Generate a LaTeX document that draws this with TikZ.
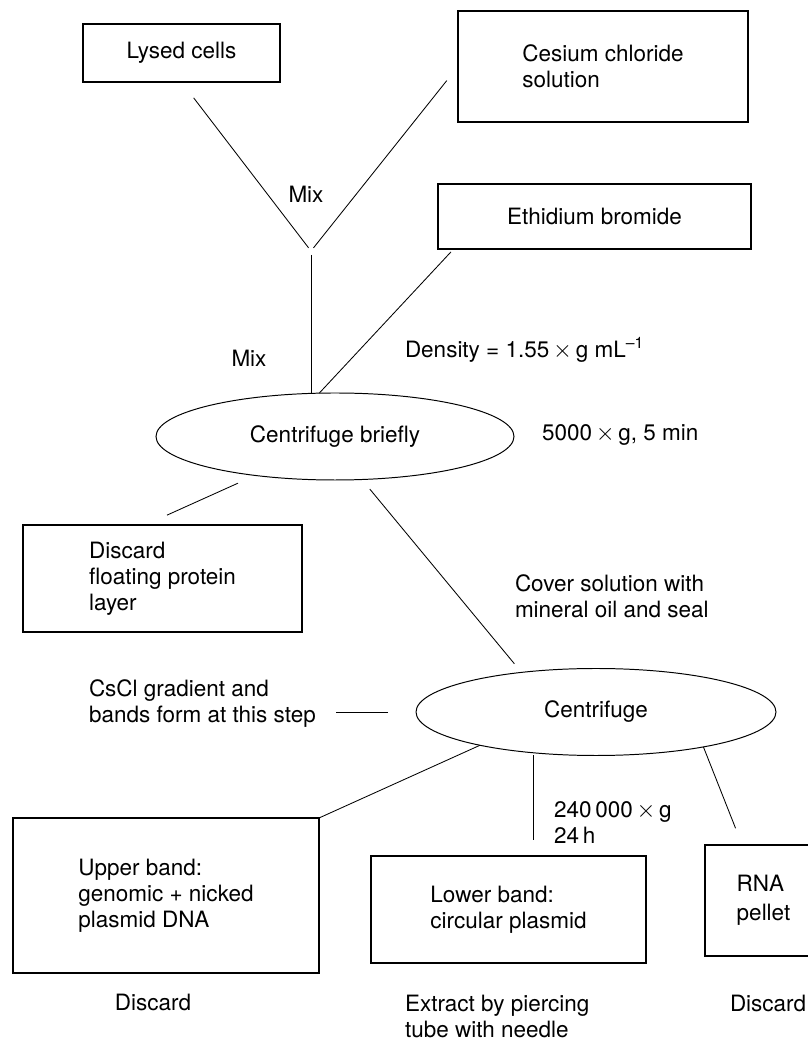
\documentclass[tikz,border=0pt]{standalone}
\usepackage{fontspec}
\setmainfont{TeX Gyre Heros}
\usetikzlibrary{shapes.geometric}

\begin{document}
\begin{tikzpicture}[line width=0.6pt,
		box/.style={draw, line width=0.9pt, inner sep=0pt, outer sep=0pt, align=left, font=\fontsize{16}{18.5}\selectfont},
		spin/.style={draw, ellipse, line width=0.7pt, inner sep=0pt, outer sep=0pt, font=\fontsize{16}{18.5}\selectfont},
		note/.style={inner sep=0pt, outer sep=0pt, align=left, font=\fontsize{16}{18.5}\selectfont}]
		\useasboundingbox (0,0) rectangle (20.2,26.025);

		% what goes into the tube
		\node [box, minimum width=4.925cm, minimum height=1.45cm] (lysed) at (4.5375,24.7) {Lysed cells};
		\node [box, minimum width=7.25cm, minimum height=2.775cm] (cesium) at (15.075,24.3625) {Cesium chloride\\ solution};
		\node [box, minimum width=7.825cm, minimum height=1.625cm] (ethidium) at (14.8625,20.6125) {Ethidium bromide};
		\coordinate (J) at (7.775,19.75);
		\node [note] (mixA) at (7.65,21.175) {Mix};
		\node [note] (mixB) at (6.225,17.075) {Mix};
		\node [note, anchor=west] (density) at (10.125,17.275) {Density = 1.55\,$\times$\,g mL\textsuperscript{--1}};

		% first spin
		\node [spin, minimum width=8.95cm, minimum height=2.175cm] (brief) at (8.375,15.1125) {Centrifuge briefly};
		\node [note, anchor=west] (spinA) at (13.55,15.15) {5000\,$\times$\,g, 5 min};
		\node [box, minimum width=6.975cm, minimum height=2.675cm] (discard) at (4.0625,11.5625) {Discard\\floating protein\\layer};
		\node [note, anchor=west] (cover) at (12.875,11.1125) {Cover solution with\\mineral oil and seal};

		% second spin
		\node [spin, minimum width=9cm, minimum height=2.175cm] (centrifuge) at (14.9,8.225) {Centrifuge};
		\node [note, anchor=west] (cscl) at (2.225,8.4375) {CsCl gradient and\\bands form at this step};
		\node [note, anchor=west] (spinB) at (13.85,5.45) {240\,000\,$\times$\,g\\24\,h};

		% bands
		\node [box, minimum width=7.65cm, minimum height=3.875cm] (upper) at (4.15,3.6375) {Upper band:\\genomic + nicked\\plasmid DNA};
		\node [box, minimum width=6.875cm, minimum height=2.675cm] (lower) at (12.7125,3.2875) {Lower band:\\circular plasmid};
		\node [box, minimum width=2.925cm, minimum height=2.775cm] (rna) at (19.0875,3.5125) {RNA\\[2pt]pellet};
		\node [note] (discardA) at (3.825,0.975) {Discard};
		\node [note, anchor=west] (extract) at (10.125,0.62) {Extract by piercing\\tube with needle};
		\node [note, anchor=west] (discardB) at (18.25,0.95) {Discard};

		% lines
		\draw [shorten <=0.5cm, shorten >=0.1cm] (lysed.south) -- (J);
		\draw [shorten <=0.45cm, shorten >=0.1cm] (cesium.west) -- (J);
		\draw [shorten <=0.1cm] (J) -- (J |- brief.north);
		\draw [shorten <=0.1cm] (ethidium.193) -- (brief.110);
		\draw [shorten <=0.47cm, shorten >=0.6cm] (brief.206) -- (discard.108);
		\draw [shorten <=0.31cm, shorten >=0.28cm] (brief.302) -- (centrifuge.152);
		\draw [shorten <=0.7cm, shorten >=0.5cm] (centrifuge.west) -- (cscl.east |- centrifuge.west);
		\draw (centrifuge.196) -- (upper.north east);
		\draw [shorten >=0.4cm] (centrifuge.south -| lower.65) -- (lower.65);
		\draw [shorten >=0.45cm] (centrifuge.342) -- (rna.111);

\end{tikzpicture}
\end{document}
